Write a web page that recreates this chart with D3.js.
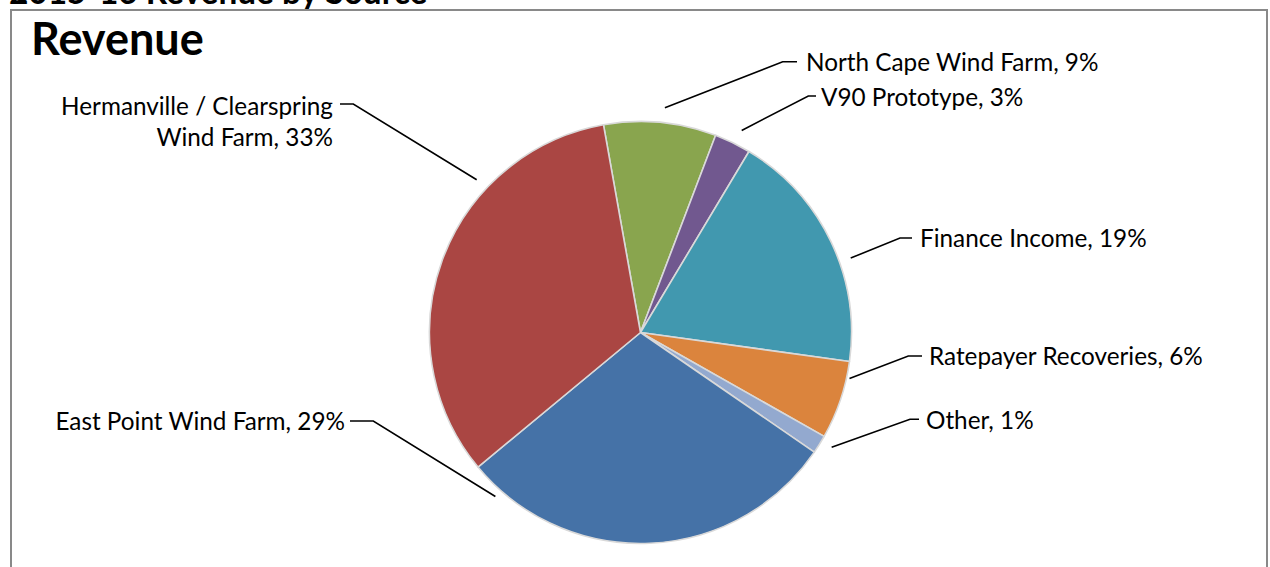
<!DOCTYPE html>
<html><head><meta charset="utf-8">
<script src="https://cdn.jsdelivr.net/npm/d3@7"></script>
<style>
html,body{margin:0;padding:0;background:#fff;overflow:hidden}
text{font-family:Lato,"Open Sans",sans-serif;fill:#000}
</style></head><body>
<svg id="chart" width="1270" height="567"></svg>
<script>
// ---- data ----
const categories = ["North Cape Wind Farm","V90 Prototype","Finance Income","Ratepayer Recoveries","Other","East Point Wind Farm","Hermanville / Clearspring Wind Farm"];
const shares = [8.6, 2.8, 18.6, 6.0, 1.4, 29.4, 33.2];
const pctLabels = ["9%","3%","19%","6%","1%","29%","33%"];
const colors = ["#89A54E","#71588F","#4198AF","#DB843D","#93A9CF","#4572A7","#AA4643"];
const chartTitle = "Revenue";
const pageTitle = "2015-16 Revenue by Source";

// ---- layout ----
const W = 1270, H = 567;
const cx = 640.5, cy = 332.5, R = 211;
const startDeg = -10.1;
const labelSize = "24.3px";
// label layout: leader angle (deg from top), leader radius, elbow point, text anchor
const labelLayout = [
  {ang:6.2,  rad:226, ex:782.7, ey:61.7, hx:797, tx:806, ty:62,  anchor:"start"},
  {ang:26.6, rad:226, ex:808.3, ey:96,   hx:816, tx:821, ty:97,  anchor:"start"},
  {ang:70.5, rad:223, ex:900,   ey:238,  hx:912, tx:920, ty:238, anchor:"start"},
  {ang:102.4,rad:214, ex:908.3, ey:356,  hx:922, tx:929, ty:356, anchor:"start"},
  {ang:121,  rad:223, ex:910,   ey:419.3,hx:919, tx:926, ty:420, anchor:"start"},
  {ang:221.5,rad:219, ex:373.3, ey:421,  hx:350, tx:345, ty:421, anchor:"end"},
  {ang:313,  rad:224, ex:353.3, ey:104,  hx:340, tx:333, ty:null, anchor:"end",
   lines:["Hermanville / Clearspring","Wind Farm, 33%"], base:[115,146]}
];

const svg = d3.select("#chart");

// cut-off page title
svg.append("text").attr("x",9).attr("y",4)
  .style("font-weight","700").style("font-size","33.4px").text(pageTitle);

// chart border
svg.append("rect").attr("x",11).attr("y",10).attr("width",1256).attr("height",620)
  .attr("fill","#fff").attr("stroke","#898989").attr("stroke-width",2);

// chart title
svg.append("text").attr("x",31).attr("y",55)
  .style("font-weight","700").style("font-size","45px").text(chartTitle);

const rad = d => d*Math.PI/180;
const pie = d3.pie().sort(null).value(d=>d)
  .startAngle(rad(startDeg)).endAngle(rad(startDeg+360));
const arcs = pie(shares);
const arc = d3.arc().innerRadius(0).outerRadius(R);

const g = svg.append("g").attr("transform",`translate(${cx},${cy})`);
g.selectAll("path").data(arcs).join("path")
  .attr("d",arc)
  .attr("fill",(d,i)=>colors[i])
  .attr("stroke","#d9d9d9").attr("stroke-width",1.6).attr("stroke-linejoin","round");

// labels + leaders
const lab = svg.append("g");
labelLayout.forEach((L,i)=>{
  const a = rad(L.ang);
  const sx = cx + Math.sin(a)*L.rad, sy = cy - Math.cos(a)*L.rad;
  lab.append("path")
    .attr("d",`M${sx},${sy}L${L.ex},${L.ey}L${L.hx},${L.ey}`)
    .attr("fill","none").attr("stroke","#000").attr("stroke-width",1.6);
  if (L.lines){
    L.lines.forEach((t,k)=>{
      lab.append("text").attr("x",L.tx).attr("y",L.base[k])
        .attr("text-anchor",L.anchor).style("font-size",labelSize).text(t);
    });
  } else {
    lab.append("text").attr("x",L.tx).attr("y",L.ty).attr("dy","0.35em")
      .attr("text-anchor",L.anchor).style("font-size",labelSize)
      .text(categories[i]+", "+pctLabels[i]);
  }
});
</script>
</body></html>
